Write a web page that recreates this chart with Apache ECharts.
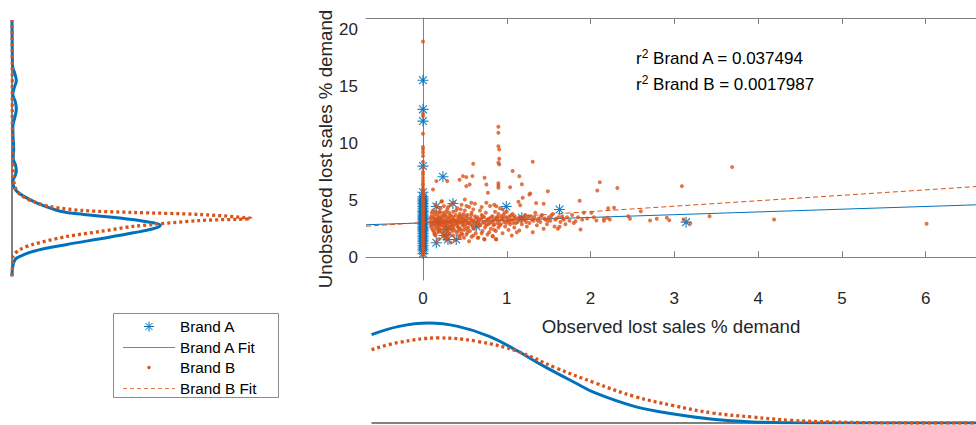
<!DOCTYPE html>
<html><head><meta charset="utf-8">
<script src="https://cdn.jsdelivr.net/npm/echarts@6/dist/echarts.min.js"></script>
<style>html,body{margin:0;padding:0;background:#fff}#c{width:976px;height:425px}</style>
</head><body><div id="c"></div>
<script>
// ---------- data ----------
const xTicks = [0, 1, 2, 3, 4, 5, 6];
const yTicks = [0, 5, 10, 15, 20];
const xName = 'Observed lost sales % demand';
const yName = 'Unobserved lost sales % demand';
const seriesNames = ['Brand A', 'Brand A Fit', 'Brand B', 'Brand B Fit'];
const r2Labels = ['Brand A = 0.037494', 'Brand B = 0.0017987'];

const brandAColumnY = [0.32,0.55,0.71,0.9,1.05,1.22,1.36,1.5,1.67,1.81,1.95,2.1,2.24,2.38,2.47,2.6,2.72,2.85,2.93,3.05,3.17,3.29,3.4,3.52,3.63,3.77,3.9,4.02,4.15,4.3,4.44,4.58,4.71,4.86,5.0,5.12,5.3,5.7,8.0,11.95,12.98,15.53];
const brandAOther = [[0.159,4.45],[0.238,7.06],[0.357,4.72],[0.159,1.27],[0.298,1.56],[0.397,1.56],[0.636,2.72],[0.994,4.45],[1.18,3.46],[1.63,4.19],[3.14,3.08],[0.28,2.43],[0.18,3.16],[0.25,1.9]];

const brandBColumnY = [0.12,0.31,0.44,0.6,0.78,0.83,1.02,1.19,1.27,1.46,1.58,1.77,1.93,2.04,2.21,2.33,2.52,2.61,2.79,2.97,3.08,3.22,3.41,3.5,3.68,3.87,3.99,4.16,4.27,4.48,4.63,4.71,4.92,5.08,5.17,5.39,5.52,5.74,5.88,6.06,6.31,6.47,6.72,6.98,7.27,7.49,7.85,8.38,8.88,9.2,9.46,9.67,10.84,12.4,12.6,18.93];
const brandBOther = [
[0.09,3.1],[0.1,2.6],[0.1,3.6],[0.11,2.9],[0.12,3.3],[0.12,4.1],[0.13,2.3],[0.13,3.0],[0.14,3.8],[0.14,2.7],[0.15,3.4],[0.15,1.9],[0.16,2.5],[0.16,3.1],[0.17,4.4],[0.17,3.7],[0.18,2.2],[0.18,2.9],[0.19,3.5],[0.19,1.6],[0.2,3.2],[0.2,4.0],[0.2,2.6],
[0.21,3.0],[0.21,2.4],[0.22,3.6],[0.22,4.9],[0.23,2.8],[0.23,3.3],[0.24,1.9],[0.24,3.9],[0.25,2.5],[0.25,3.1],[0.25,4.5],[0.26,2.9],[0.26,3.5],[0.27,2.1],[0.27,3.7],[0.28,2.6],[0.28,3.2],[0.29,4.2],[0.29,1.7],[0.3,3.0],[0.3,2.4],[0.31,3.4],[0.31,3.9],[0.32,2.7],[0.32,2.0],[0.33,3.2],[0.33,4.6],[0.34,2.9],[0.34,3.6],[0.35,2.3],[0.35,3.1],
[0.36,4.0],[0.36,2.6],[0.37,3.3],[0.38,1.5],[0.38,2.9],[0.39,3.7],[0.4,2.2],[0.4,3.1],[0.41,4.3],[0.41,2.7],[0.42,3.5],[0.43,1.9],[0.43,3.0],[0.44,2.5],[0.44,3.8],[0.45,3.3],[0.46,2.1],[0.46,4.6],[0.47,2.8],[0.47,3.6],[0.48,3.1],[0.49,1.7],[0.49,2.4],[0.5,3.4],[0.5,4.1],[0.51,2.9],[0.52,3.2],[0.52,2.0],[0.53,3.7],[0.54,2.6],[0.55,3.0],[0.55,4.4],
[0.56,2.3],[0.57,3.4],[0.58,3.9],[0.58,1.8],[0.59,2.8],[0.6,3.2],[0.61,2.5],[0.62,3.6],[0.62,4.7],[0.63,2.1],[0.64,3.0],[0.65,3.5],[0.66,1.7],[0.66,2.7],[0.67,3.3],[0.68,4.1],[0.69,2.9],[0.7,3.7],[0.71,2.3],[0.72,3.1],[0.73,1.6],[0.73,3.5],[0.74,2.6],[0.75,3.9],[0.76,3.2],[0.77,2.0],[0.78,2.9],[0.79,3.4],[0.8,4.5],
[0.81,2.5],[0.82,3.1],[0.83,1.85],[0.83,3.6],[0.84,2.8],[0.85,3.3],[0.86,4.0],[0.87,1.6],[0.87,2.3],[0.88,3.5],[0.89,3.0],[0.9,3.8],[0.9,2.6],[0.91,3.2],[0.92,4.3],[0.93,2.9],[0.94,3.4],[0.95,2.1],[0.96,3.7],[0.97,3.1],[0.98,2.7],[0.99,3.5],[1.0,4.0],[1.01,3.2],[1.02,2.4],[1.03,3.6],[1.04,2.9],[1.05,3.3],[1.06,1.9],[1.07,3.8],[1.08,3.0],[1.09,2.6],[1.1,3.4],
[0.085,3.4],[0.095,2.8],[0.105,3.9],[0.115,2.4],[0.125,3.5],[0.135,2.1],[0.145,3.2],[0.155,4.0],[0.165,2.8],[0.175,3.3],[0.185,2.5],[0.195,3.9],[0.205,2.9],[0.215,3.4],[0.225,2.2],[0.235,3.1],[0.245,3.7],[0.255,2.7],[0.265,3.2],[0.275,4.0],[0.285,2.9],[0.295,3.5],[0.305,2.6],[0.315,3.1],[0.325,3.7],[0.335,2.5],[0.345,3.3],[0.355,2.8],[0.365,3.5],[0.375,2.4],[0.385,3.2],[0.395,4.1],[0.405,2.9],[0.415,3.3],[0.425,2.6],[0.435,3.6],[0.445,3.1],[0.455,2.4],[0.465,3.4],[0.475,3.0],[0.485,3.8],[0.495,2.7],[0.505,3.2],[0.515,3.6],[0.525,2.5],[0.535,3.0],[0.545,3.4],[0.565,2.9],[0.575,3.7],[0.585,3.2],[0.595,2.6],[0.615,3.0],[0.635,3.4],[0.655,3.1],[0.675,2.8],[0.695,3.4],[0.715,3.6],[0.735,3.0],[0.755,2.8],[0.775,3.3],[0.795,3.0],[0.815,3.5],[0.835,3.2],[0.855,2.9],[0.875,3.3],[0.895,3.5],[0.915,2.8],[0.935,3.6],[0.955,3.3],[0.975,3.9],[0.995,3.0],[1.015,3.4],[1.035,3.1],[1.055,3.7],[1.075,3.3],[1.095,3.6],
[0.14,2.0],[0.19,2.3],[0.26,1.8],[0.31,2.1],[0.36,1.9],[0.42,2.3],[0.47,2.0],[0.53,2.2],[0.6,1.9],[0.7,2.1],[0.79,2.2],[0.85,2.4],[0.15,4.6],[0.21,4.3],[0.3,4.4],[0.37,4.8],[0.45,4.2],[0.52,4.5],[0.6,4.2],[0.7,4.4],[0.85,4.6],[0.95,4.2],
[1.11,3.0],[1.14,3.4],[1.17,3.2],[1.21,3.5],[1.23,3.1],[1.26,3.6],[1.3,3.3],[1.33,3.5],[1.37,3.2],[1.41,3.6],[1.45,3.4],[1.49,3.2],[1.53,3.6],[1.58,3.3],[1.62,3.5],[1.67,3.4],
[1.12,2.2],[1.13,3.1],[1.14,4.87],[1.15,2.35],[1.16,3.5],[1.16,4.57],[1.18,2.9],[1.19,5.22],[1.2,3.3],[1.22,3.7],[1.24,2.7],[1.25,3.4],[1.27,3.0],[1.28,5.6],[1.29,3.6],[1.31,2.2],[1.32,3.2],[1.34,3.9],[1.35,4.75],[1.36,2.8],[1.38,3.4],[1.4,3.1],[1.42,3.7],[1.44,2.5],[1.44,4.69],[1.46,3.3],[1.48,2.9],[1.5,3.5],[1.52,3.2],[1.55,3.8],[1.57,2.7],[1.59,3.4],[1.61,2.5],[1.63,2.67],[1.64,3.1],[1.66,3.6],[1.68,3.3],[1.7,2.9],[1.72,3.5],[1.75,3.2],[1.78,3.7],[1.8,3.0],[1.82,3.16],[1.85,3.5],[1.87,4.96],[1.88,2.43],[1.9,3.3],
[1.92,3.9],[1.96,3.4],[2.01,3.9],[2.04,3.5],[2.07,3.22],[2.08,5.86],[2.11,6.59],[2.16,3.37],[2.16,3.2],[2.2,3.46],[2.21,4.3],[2.23,3.31],[2.28,4.34],[2.32,6.07],[2.45,3.6],[2.47,3.37],[2.6,4.04],[2.71,3.22],[2.79,3.37],[2.91,3.46],[2.94,3.25],[3.09,6.24],[3.11,3.31],[3.19,2.96],[3.42,3.6],[3.69,7.91],[4.19,3.31],[6.01,2.93],
[0.9,11.46],[0.9,10.93],[0.9,9.75],[0.91,9.46],[0.91,8.65],[0.9,8.3],[0.91,8.15],[0.6,8.2],[1.31,8.38],[1.07,7.56],[1.15,7.1],[1.18,6.4],[1.04,6.15],[0.735,6.97],[0.517,7.03],[0.437,6.8],[0.29,6.68],[0.16,6.68],[0.12,5.95],[0.557,6.39],[0.775,5.66],[1.49,5.8],[1.27,5.5],[0.9,6.5],[0.9,6.3],[0.9,6.1],[0.59,7.12],[0.477,7.12],[0.517,6.24],[0.756,6.39],[0.5,5.07],[0.577,4.78],[0.226,4.92],[0.756,4.78],[0.875,4.48],
[0.16,1.32],[0.28,1.56],[0.44,1.7],[0.655,1.7],[0.735,1.56],[0.834,1.85],[0.875,1.56],[0.33,1.3],[0.55,1.4]
];

const fitA = [[-0.68, 2.85], [6.6, 4.6]];
const fitB = [[-0.68, 2.72], [6.6, 6.2]];

// marginal kernel densities (left: [density, y], bottom: [x, density])
const densAY = [[0,-1.67],[0.003,-0.79],[0.011,-0.2],[0.029,0.09],[0.075,0.53],[0.191,1.12],[0.307,1.62],[0.422,2.14],[0.49,2.5],[0.515,2.79],[0.457,3.16],[0.365,3.46],[0.249,3.75],[0.168,4.04],[0.098,4.63],[0.04,5.36],[0.016,5.8],[0.006,6.2],[0.003,6.68],[0.01,7.1],[0.015,7.6],[0.012,8.1],[0.004,8.7],[0.006,9.5],[0.004,10.5],[0.003,11.4],[0.01,12.3],[0.015,13.0],[0.012,13.6],[0.003,14.3],[0.008,14.9],[0.015,15.5],[0.01,16.1],[0.002,16.8],[0.001,18.0],[0,20.8]];
const densBY = [[0,-1.67],[0.002,-0.6],[0.003,0.06],[0.028,0.68],[0.073,1.12],[0.19,1.82],[0.306,2.26],[0.42,2.7],[0.653,3.22],[0.83,3.4],[0.653,3.75],[0.42,3.93],[0.247,4.1],[0.13,4.45],[0.073,4.9],[0.028,5.5],[0.01,6.2],[0.005,7.0],[0.003,8.5],[0.002,10.5],[0.001,13],[0.001,16],[0,20.8]];
const densAX = [[-0.614,0.841],[-0.286,0.92],[0.066,0.952],[0.416,0.92],[0.791,0.825],[1.119,0.69],[1.447,0.539],[1.821,0.381],[2.056,0.286],[2.523,0.158],[2.992,0.085],[3.46,0.035],[3.928,0.01],[4.397,0.002],[5.0,0],[6.6,0]];
const densBX = [[-0.614,0.698],[-0.286,0.768],[0.182,0.81],[0.651,0.777],[1.119,0.685],[1.588,0.524],[2.056,0.381],[2.523,0.253],[2.992,0.165],[3.46,0.095],[3.928,0.057],[4.397,0.025],[4.865,0.01],[5.33,0.003],[6.0,0],[6.6,0]];
const leftBase = [[0,-1.67],[0,20.8]];
const bottomBase = [[-0.614,0],[6.6,0]];

// ---------- build ----------
const brandA = brandAColumnY.map(v => [0, v]).concat(brandAOther);
const brandB = brandBColumnY.map(v => [0, v]).concat(brandBOther);

const FONT = '"Liberation Sans", Arial, Helvetica, sans-serif';
const BLUE = '#0072BD', ORANGE = '#D95319', AX = '#808080', TXT = '#262626';
const BLUE_L = '#3f96d6', ORANGE_L = '#e0774a';
const starPath = 'M-1 -0.1 L1 -0.1 L1 0.1 L-1 0.1 Z M-0.1 -1 L0.1 -1 L0.1 1 L-0.1 1 Z M-0.778 -0.636 L-0.636 -0.778 L0.778 0.636 L0.636 0.778 Z M-0.636 0.778 L-0.778 0.636 L0.636 -0.778 L0.778 -0.636 Z';

// legend box (drawn as graphic)
const LG = {x: 113, y: 313, w: 165, h: 84, iconL: 123, iconR: 175, iconC: 149, textX: 180, row0: 326.5, rowStep: 20.5};
const ln = (x1, y1, x2, y2, stroke, extra) => ({type: 'line', silent: true, z: 11,
  shape: {x1, y1, x2, y2}, style: Object.assign({stroke, lineWidth: 1}, extra || {})});
const sr = 5, sd = 3.54, cy0 = LG.row0;
const yFitA = Math.round(LG.row0 + LG.rowStep) + 0.5;
const yFitB = Math.round(LG.row0 + 3 * LG.rowStep) + 0.5;
const legendGraphics = [
  {type: 'rect', shape: {x: LG.x + 0.5, y: LG.y + 0.5, width: LG.w, height: LG.h},
   style: {fill: '#fff', stroke: '#8c8c8c', lineWidth: 1}, silent: true, z: 10},
  ln(LG.iconC - sr, cy0, LG.iconC + sr, cy0, BLUE),
  ln(LG.iconC, cy0 - sr, LG.iconC, cy0 + sr, BLUE),
  ln(LG.iconC - sd, cy0 - sd, LG.iconC + sd, cy0 + sd, BLUE),
  ln(LG.iconC - sd, cy0 + sd, LG.iconC + sd, cy0 - sd, BLUE),
  ln(LG.iconL, yFitA, LG.iconR, yFitA, BLUE_L, {lineWidth: 1.2}),
  {type: 'circle', shape: {cx: LG.iconC, cy: LG.row0 + 2 * LG.rowStep, r: 1.7},
   style: {fill: ORANGE}, silent: true, z: 11},
  ln(LG.iconL, yFitB, LG.iconR, yFitB, ORANGE_L, {lineDash: [4, 3]})
].concat(seriesNames.map((n, i) => ({
  type: 'text', x: LG.textX, y: LG.row0 + i * LG.rowStep, silent: true, z: 11,
  style: {text: n, fontSize: 15.3, fontFamily: FONT, fill: '#000', verticalAlign: 'middle', align: 'left'}
})));

const r2Graphics = r2Labels.map((t, i) => ({
  type: 'text', x: 636, y: 58 + i * 26, silent: true,
  style: {
    text: '{r|r}{s|2}{t| ' + t + '}',
    verticalAlign: 'middle',
    rich: {
      r: {fontSize: 17, fontFamily: FONT, fill: '#000', lineHeight: 20},
      s: {fontSize: 12, fontFamily: FONT, fill: '#000', lineHeight: 10, verticalAlign: 'top'},
      t: {fontSize: 17, fontFamily: FONT, fill: '#000', lineHeight: 20}
    }
  }
}));

const chart = echarts.init(document.getElementById('c'), null, {renderer: 'svg'});
const XMIN = -0.68, XMAX = 6.6, YMIN = -2, YMAX = 21;
const hidden = {show: false};
chart.setOption({
  animation: false,
  backgroundColor: '#fff',
  textStyle: {fontFamily: FONT},
  grid: [
    {left: 366, right: -1, top: 18, bottom: 145},
    {left: 12, width: 288, top: 18, height: 262},
    {left: 366, right: -1, top: 318, bottom: 2}
  ],
  xAxis: [
    {gridIndex: 0, type: 'value', min: XMIN, max: XMAX, position: 'bottom',
     axisLine: {show: true, lineStyle: {color: AX}},
     axisTick: {show: true, inside: true, length: 6, customValues: xTicks, lineStyle: {color: AX}},
     axisLabel: {customValues: xTicks, margin: 10, fontSize: 17, color: TXT, fontFamily: FONT},
     splitLine: hidden,
     name: xName, nameLocation: 'middle', nameGap: 37,
     nameTextStyle: {fontSize: 18.7, color: TXT, fontFamily: FONT}},
    {gridIndex: 0, type: 'value', min: XMIN, max: XMAX, position: 'top',
     axisLine: {show: true, lineStyle: {color: AX}},
     axisTick: {show: true, inside: true, length: 6, customValues: xTicks, lineStyle: {color: AX}},
     axisLabel: hidden, splitLine: hidden},
    {gridIndex: 1, type: 'value', min: 0, max: 1, show: false},
    {gridIndex: 2, type: 'value', min: XMIN, max: XMAX, show: false}
  ],
  yAxis: [
    {gridIndex: 0, type: 'value', min: YMIN, max: YMAX,
     axisLine: {show: true, lineStyle: {color: AX}},
     axisTick: hidden,
     axisLabel: {customValues: yTicks, margin: 8, fontSize: 17, color: TXT, fontFamily: FONT},
     splitLine: hidden,
     name: yName, nameLocation: 'middle', nameGap: 31, nameMoveOverlap: false,
     nameTextStyle: {fontSize: 18.7, color: TXT, fontFamily: FONT}},
    {gridIndex: 1, type: 'value', min: YMIN, max: YMAX, show: false},
    {gridIndex: 2, type: 'value', min: 0, max: 1, show: false}
  ],
  graphic: legendGraphics.concat(r2Graphics),
  series: [
    {name: seriesNames[0], type: 'scatter', xAxisIndex: 0, yAxisIndex: 0,
     data: brandA, symbol: 'path://' + starPath, symbolSize: 11,
     itemStyle: {color: BLUE, opacity: 0.9}, z: 2},
    {name: seriesNames[1], type: 'line', xAxisIndex: 0, yAxisIndex: 0,
     data: fitA, symbol: 'none', lineStyle: {color: BLUE, width: 1}, itemStyle: {color: BLUE}, z: 3},
    {name: seriesNames[2], type: 'scatter', xAxisIndex: 0, yAxisIndex: 0,
     data: brandB, symbol: 'circle', symbolSize: 4, itemStyle: {color: ORANGE}, z: 4},
    {name: seriesNames[3], type: 'line', xAxisIndex: 0, yAxisIndex: 0,
     data: fitB, symbol: 'none', lineStyle: {color: ORANGE, width: 1, type: [5, 3]}, itemStyle: {color: ORANGE}, z: 5},

    {name: 'baseL', type: 'line', xAxisIndex: 2, yAxisIndex: 1, data: leftBase, symbol: 'none', silent: true,
     lineStyle: {color: AX, width: 2}},
    {name: 'densAL', type: 'line', xAxisIndex: 2, yAxisIndex: 1, data: densAY, symbol: 'none', silent: true, smooth: 0.4,
     lineStyle: {color: BLUE, width: 3}},
    {name: 'densBL', type: 'line', xAxisIndex: 2, yAxisIndex: 1, data: densBY, symbol: 'none', silent: true, smooth: 0.3,
     lineStyle: {color: ORANGE, width: 3.3, type: [3, 3]}},

    {name: 'baseB', type: 'line', xAxisIndex: 3, yAxisIndex: 2, data: bottomBase, symbol: 'none', silent: true,
     lineStyle: {color: AX, width: 2}},
    {name: 'densAB', type: 'line', xAxisIndex: 3, yAxisIndex: 2, data: densAX, symbol: 'none', silent: true, smooth: 0.4,
     lineStyle: {color: BLUE, width: 3}},
    {name: 'densBB', type: 'line', xAxisIndex: 3, yAxisIndex: 2, data: densBX, symbol: 'none', silent: true, smooth: 0.4,
     lineStyle: {color: ORANGE, width: 3.3, type: [3, 3]}}
  ]
});
</script></body></html>
